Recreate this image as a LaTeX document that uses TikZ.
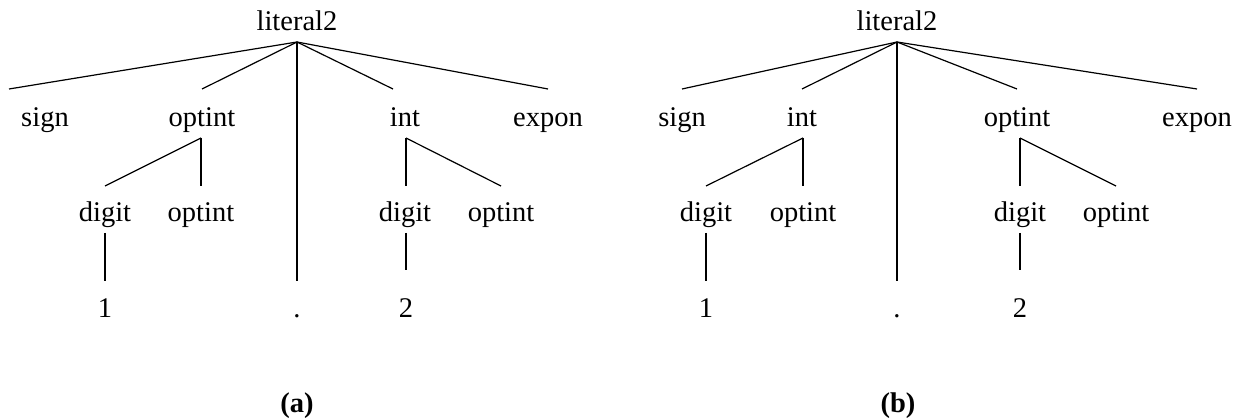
\documentclass[tikz,border=0pt]{standalone}
\usepackage{fontspec}
\setmainfont{Liberation Serif}
\begin{document}
\begin{tikzpicture}[x=1pt,y=-1pt,
  lbl/.style={anchor=base,inner sep=0pt,font=\fontsize{28.5}{34}\selectfont},
  subcap/.style={lbl,font=\fontsize{28.5}{34}\selectfont\bfseries},
  branch/.style={line width=1.2pt,line cap=butt}]
\useasboundingbox (0,0) rectangle (1235,419);
% ---------- tree (a) ----------
\node[lbl] (aroot) at (297,31) {literal2};
\coordinate (aA) at (297,42);
\coordinate (aSignT) at (9,89);
\coordinate (aOptT) at (202,89);
\coordinate (aIntT) at (393,89);
\coordinate (aExpT) at (548,89);
\node[lbl] (asign) at (45,127) {sign};
\node[lbl] (aopt) at (202,127) {optint};
\node[lbl] (aint) at (405,127) {int};
\node[lbl] (aexp) at (548,127) {expon};
\coordinate (aOptA) at (201,138);
\coordinate (aD1T) at (105,186);
\coordinate (aO1T) at (201,186);
\coordinate (aIntA) at (406,138);
\coordinate (aD2T) at (406,186);
\coordinate (aO2T) at (501,186);
\node[lbl] (ad1) at (105,222) {digit};
\node[lbl] (ao1) at (201,222) {optint};
\node[lbl] (ad2) at (405,222) {digit};
\node[lbl] (ao2) at (501,222) {optint};
\coordinate (aD1B) at (105,233);
\coordinate (aOneT) at (105,281);
\coordinate (aD2B) at (406,233);
\coordinate (aTwoT) at (406,270);
\coordinate (aDotT) at (297,281);
\node[lbl] (aone) at (105,318) {1};
\node[lbl] (adot) at (297,318) {.};
\node[lbl] (atwo) at (406,318) {2};
\node[subcap] (acap) at (297,413) {(a)};
\draw[branch] (aA) -- (aSignT);
\draw[branch] (aA) -- (aOptT);
\draw[branch] (aA) -- (aDotT);
\draw[branch] (aA) -- (aIntT);
\draw[branch] (aA) -- (aExpT);
\draw[branch] (aOptA) -- (aD1T);
\draw[branch] (aOptA) -- (aO1T);
\draw[branch] (aIntA) -- (aD2T);
\draw[branch] (aIntA) -- (aO2T);
\draw[branch] (aD1B) -- (aOneT);
\draw[branch] (aD2B) -- (aTwoT);
% ---------- tree (b) ----------
\node[lbl] (broot) at (897,31) {literal2};
\coordinate (bA) at (897,42);
\coordinate (bSignT) at (682,89);
\coordinate (bIntT) at (802,89);
\coordinate (bOptT) at (1017,89);
\coordinate (bExpT) at (1197,89);
\node[lbl] (bsign) at (682,127) {sign};
\node[lbl] (bint) at (802,127) {int};
\node[lbl] (bopt) at (1017,127) {optint};
\node[lbl] (bexp) at (1197,127) {expon};
\coordinate (bIntA) at (803,138);
\coordinate (bD1T) at (706,186);
\coordinate (bO1T) at (803,186);
\coordinate (bOptA) at (1020,138);
\coordinate (bD2T) at (1020,186);
\coordinate (bO2T) at (1116,186);
\node[lbl] (bd1) at (706,222) {digit};
\node[lbl] (bo1) at (803,222) {optint};
\node[lbl] (bd2) at (1020,222) {digit};
\node[lbl] (bo2) at (1116,222) {optint};
\coordinate (bD1B) at (706,233);
\coordinate (bOneT) at (706,281);
\coordinate (bD2B) at (1020,233);
\coordinate (bTwoT) at (1020,270);
\coordinate (bDotT) at (897,281);
\node[lbl] (bone) at (706,318) {1};
\node[lbl] (bdot) at (897,318) {.};
\node[lbl] (btwo) at (1020,318) {2};
\node[subcap] (bcap) at (898,413) {(b)};
\draw[branch] (bA) -- (bSignT);
\draw[branch] (bA) -- (bIntT);
\draw[branch] (bA) -- (bDotT);
\draw[branch] (bA) -- (bOptT);
\draw[branch] (bA) -- (bExpT);
\draw[branch] (bIntA) -- (bD1T);
\draw[branch] (bIntA) -- (bO1T);
\draw[branch] (bOptA) -- (bD2T);
\draw[branch] (bOptA) -- (bO2T);
\draw[branch] (bD1B) -- (bOneT);
\draw[branch] (bD2B) -- (bTwoT);
\end{tikzpicture}
\end{document}
